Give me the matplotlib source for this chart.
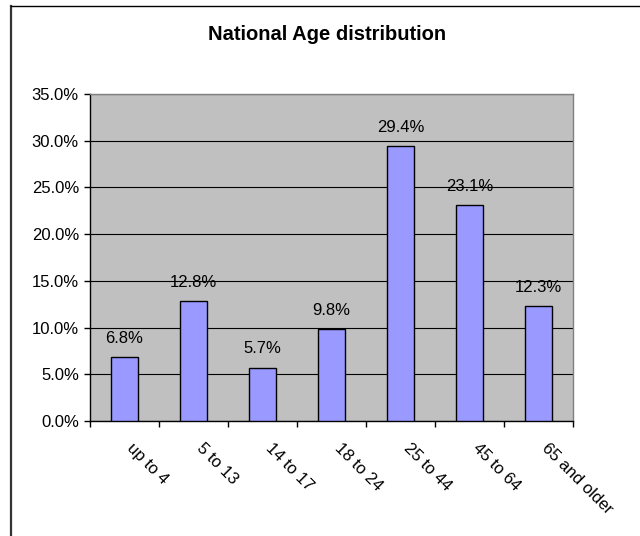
import matplotlib
matplotlib.use("Agg")
import matplotlib.pyplot as plt
from matplotlib.lines import Line2D
import numpy as np

# Age groups and their share of the population (%)
age_groups = ["up to 4", "5 to 13", "14 to 17", "18 to 24",
              "25 to 44", "45 to 64", "65 and older"]
shares = [6.8, 12.8, 5.7, 9.8, 29.4, 23.1, 12.3]
y_ticks = [0, 5, 10, 15, 20, 25, 30, 35]

plt.rcParams["font.family"] = ["Liberation Sans", "DejaVu Sans"]

fig = plt.figure(figsize=(6.4, 5.36), dpi=100)
ax = fig.add_axes([90 / 640, 1 - 421 / 536, 483 / 640, 327 / 536])

# chart frame (left and top edges)
top_y = 1 - 5.5 / 536
left_x = 11 / 640
fig.add_artist(Line2D([left_x, left_x], [0, top_y], color="#333333", lw=1.6,
                      transform=fig.transFigure))
fig.add_artist(Line2D([left_x, 1], [top_y, top_y], color="black", lw=1.0,
                      transform=fig.transFigure))

x = np.arange(len(age_groups))
ax.set_facecolor("#C0C0C0")
ax.bar(x, shares, width=0.4, color="#9999FF", edgecolor="black", linewidth=1.0,
       zorder=3)

for xi, v in zip(x, shares):
    ax.annotate(f"{v:.1f}%", (xi, v), xytext=(0, 13.5), textcoords="offset points",
                ha="center", va="center", fontsize=12, zorder=4)

ax.set_xlim(-0.5, len(age_groups) - 0.5)
ax.set_ylim(0, 35)
ax.set_yticks(y_ticks)
ax.set_yticklabels([f"{t:.1f}%" for t in y_ticks], fontsize=12)
ax.yaxis.grid(True, color="black", lw=0.8, zorder=1)
ax.set_axisbelow(True)

# category boundaries carry the tick marks, labels sit at the centres
ax.set_xticks(np.arange(-0.5, len(age_groups), 1.0))
ax.set_xticklabels([])
ax.set_xticks(x, minor=True)
ax.set_xticklabels(age_groups, minor=True, rotation=-45, ha="left",
                   rotation_mode="default", fontsize=12)
ax.tick_params(axis="x", which="minor", length=0, pad=14)
ax.tick_params(axis="x", which="major", length=4, direction="out", width=1)
ax.tick_params(axis="y", length=4, direction="out", width=1, pad=4)
for lab in ax.get_xticklabels(minor=True):
    lab.set_verticalalignment("top")

for side in ("top", "right"):
    ax.spines[side].set_color("#808080")
    ax.spines[side].set_linewidth(1.0)
for side in ("left", "bottom"):
    ax.spines[side].set_color("black")
    ax.spines[side].set_linewidth(1.0)

fig.text(327 / 640, 1 - 34 / 536, "National Age distribution", ha="center",
         va="center", fontsize=14.5, fontweight="bold")

fig.savefig("out.png", dpi=100)
